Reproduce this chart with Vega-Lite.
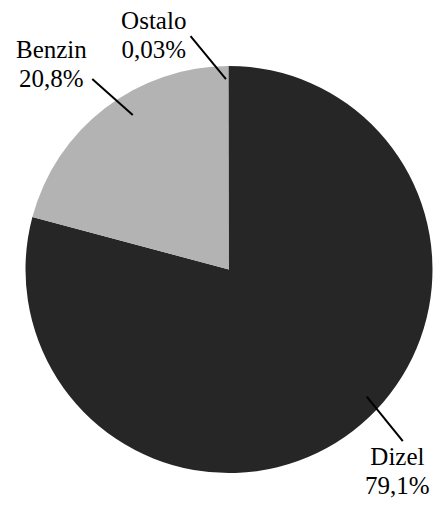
{
  "$schema": "https://vega.github.io/schema/vega-lite/v6.json",
  "width": 424,
  "height": 413,
  "autosize": {"type": "none"},
  "padding": {"left": 17, "top": 63, "right": 0, "bottom": 31},
  "background": "white",
  "config": {"view": {"stroke": null}},
  "data": {
    "values": [
      {"cat": "Dizel", "value": 79.1, "label": "Dizel\n79,1%"},
      {"cat": "Benzin", "value": 20.8, "label": "Benzin\n20,8%"},
      {"cat": "Ostalo", "value": 0.03, "label": "Ostalo\n0,03%"}
    ]
  },
  "layer": [
    {
      "mark": {"type": "arc", "outerRadius": 203.5},
      "encoding": {
        "theta": {"field": "value", "type": "quantitative", "stack": true},
        "order": {"field": "value", "type": "quantitative", "sort": "descending"},
        "color": {
          "field": "cat",
          "type": "nominal",
          "scale": {"domain": ["Dizel", "Benzin", "Ostalo"], "range": ["#262626", "#b3b3b3", "#262626"]},
          "legend": null
        }
      }
    },
    {
      "mark": {
        "type": "text",
        "radius": 265,
        "font": "Liberation Serif",
        "fontSize": 25,
        "lineHeight": 29,
        "lineBreak": "\n",
        "align": "center",
        "baseline": "middle",
        "color": "black",
        "dx": {"expr": "datum.cat === 'Ostalo' ? -75 : datum.cat === 'Benzin' ? -16 : 7"},
        "dy": {"expr": "datum.cat === 'Ostalo' ? 16 : datum.cat === 'Benzin' ? -9 : -23"}
      },
      "encoding": {
        "theta": {"field": "value", "type": "quantitative", "stack": true},
        "order": {"field": "value", "type": "quantitative", "sort": "descending"},
        "detail": {"field": "cat", "type": "nominal"},
        "text": {"field": "label", "type": "nominal"}
      }
    },
    {
      "data": {
        "values": [
          {"cat": "Dizel", "x1": 0.677, "y1": -0.625, "x2": 0.854, "y2": -0.843},
          {"cat": "Benzin", "x1": -0.473, "y1": 0.759, "x2": -0.672, "y2": 0.936},
          {"cat": "Ostalo", "x1": -0.015, "y1": 0.936, "x2": -0.189, "y2": 1.147}
        ]
      },
      "mark": {"type": "rule", "color": "black", "strokeWidth": 2},
      "encoding": {
        "x": {"field": "x1", "type": "quantitative", "scale": {"domain": [-1.04177, 1.04177], "nice": false, "zero": false}, "axis": null},
        "y": {"field": "y1", "type": "quantitative", "scale": {"domain": [-1.01474, 1.01474], "nice": false, "zero": false}, "axis": null},
        "x2": {"field": "x2"},
        "y2": {"field": "y2"}
      }
    }
  ]
}
